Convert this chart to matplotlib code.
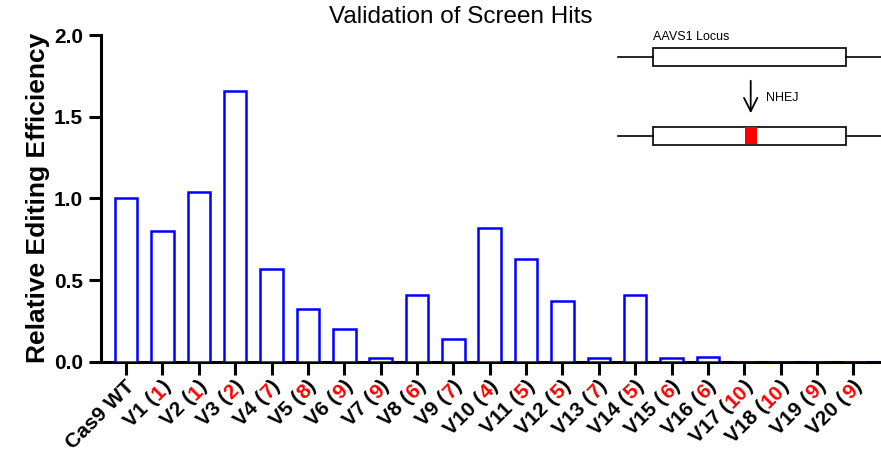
import matplotlib
matplotlib.use("Agg")
import matplotlib.pyplot as plt
import matplotlib.transforms as mtransforms
from matplotlib.patches import Rectangle
import numpy as np

plt.rcParams['font.family'] = ['Liberation Sans', 'DejaVu Sans']

# variant names, number in brackets (drawn red), and editing efficiency
variants = ['Cas9 WT', 'V1', 'V2', 'V3', 'V4', 'V5', 'V6', 'V7', 'V8', 'V9', 'V10',
            'V11', 'V12', 'V13', 'V14', 'V15', 'V16', 'V17', 'V18', 'V19', 'V20']
counts = [None, '1', '1', '2', '7', '8', '9', '9', '6', '7', '4',
          '5', '5', '7', '5', '6', '6', '10', '10', '9', '9']
efficiency = [1.0, 0.80, 1.04, 1.66, 0.57, 0.32, 0.20, 0.025, 0.41, 0.14, 0.82,
              0.63, 0.37, 0.02, 0.41, 0.025, 0.03, 0.0, 0.0, 0.0, 0.0]

fig = plt.figure(figsize=(8.81, 4.54), dpi=100)
ax = fig.add_axes([0.1146, 0.2033, 0.885, 0.7196])

x = np.arange(len(variants))
ax.bar(x, efficiency, width=0.62, facecolor='white', edgecolor='#0000ff', linewidth=1.8, zorder=3)

ax.set_xlim(-0.69, 20.75)
ax.set_ylim(0, 2.0)
ax.set_yticks([0, 0.5, 1.0, 1.5, 2.0])
ax.set_yticklabels(['0.0', '0.5', '1.0', '1.5', '2.0'], fontsize=15, fontweight='bold')
ax.set_xticks(x)
ax.set_xticklabels([])
ax.tick_params(axis='both', length=9, width=2.2, color='black')
ax.tick_params(axis='y', pad=4)
for side in ['top', 'right']:
    ax.spines[side].set_visible(False)
for side in ['left', 'bottom']:
    ax.spines[side].set_linewidth(2.2)
ax.set_ylabel('Relative Editing Efficiency', fontsize=19, fontweight='bold', labelpad=3)

fig.text(0.523, 0.962, 'Validation of Screen Hits', fontsize=17.5, ha='center', va='center')

# multi-coloured rotated tick labels, built piece by piece from the right end
renderer = fig.canvas.get_renderer()
lab_size = 15
lab_kw = dict(fontsize=lab_size, fontweight='bold', rotation=45, rotation_mode='anchor',
              ha='right', va='top')


def text_width(s):
    t = fig.text(0, 0, s, fontsize=lab_size, fontweight='bold')
    w = t.get_window_extent(renderer).width
    t.remove()
    return w


c45 = np.cos(np.pi / 4)
for i, (name, cnt) in enumerate(zip(variants, counts)):
    if cnt is None:
        parts = [(name, 'black')]
    else:
        parts = [(name + ' (', 'black'), (cnt, '#ff0000'), (')', 'black')]
    tail = ''
    for s, col in reversed(parts):
        w = text_width(tail) if tail else 0.0
        trans = mtransforms.offset_copy(ax.get_xaxis_transform(), fig=fig,
                                        x=-w * c45 - 1, y=-w * c45 - 15, units='dots')
        ax.text(i, 0, s, color=col, transform=trans, clip_on=False, **lab_kw)
        tail = s + tail

# AAVS1 locus diagram, drawn in pixel space of the figure
dax = fig.add_axes([0, 0, 1, 1], facecolor='none')
dax.set_xlim(0, 881)
dax.set_ylim(454, 0)
dax.axis('off')

for yc, box_top in [(57, 48), (135.5, 126.5)]:
    dax.plot([618, 653], [yc, yc], color='black', lw=1.2)
    dax.plot([846, 881], [yc, yc], color='black', lw=1.2)
    dax.add_patch(Rectangle((653, box_top), 193, 18, facecolor='white', edgecolor='black', lw=1.2))
dax.add_patch(Rectangle((745, 127.2), 11.5, 16.6, facecolor='#ff0000', edgecolor='none', zorder=5))
dax.text(653, 40, 'AAVS1 Locus', fontsize=9, ha='left', va='baseline')
dax.annotate('', xy=(750.7, 116), xytext=(750.7, 78),
             arrowprops=dict(arrowstyle='->', color='black', lw=1.3, mutation_scale=24))
dax.text(766, 98, 'NHEJ', fontsize=9, ha='left', va='center')

fig.savefig('out.png', dpi=100)
